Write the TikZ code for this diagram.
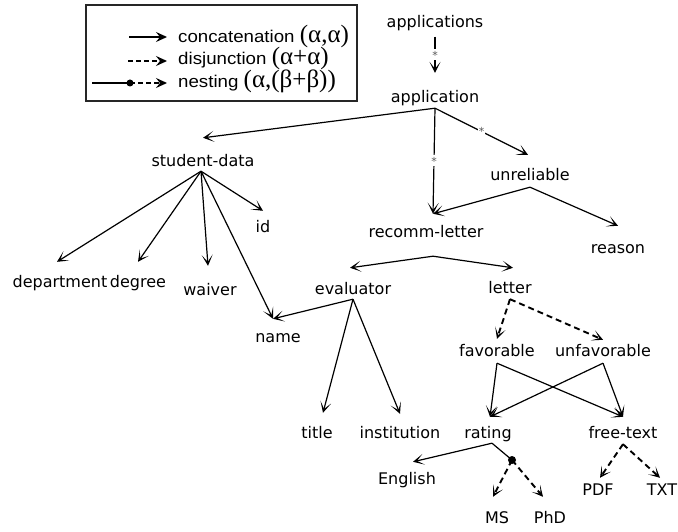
\documentclass[tikz,border=0pt]{standalone}
\usepackage{fontspec}
\setmainfont{DejaVu Sans}
\newfontfamily\legendfont[FakeStretch=1.1]{Liberation Sans}
\newfontfamily\greekfont{Liberation Serif}
\usetikzlibrary{arrows.meta,calc}

\newcommand{\gk}[1]{{\greekfont\fontsize{25}{25}\selectfont #1}}

\tikzset{
  lbl/.style={font=\fontsize{16}{19}\selectfont, inner sep=0pt, anchor=base},
  hd/.style 2 args={text height=#1pt, text depth=#2pt},
  cat/.style={line width=1.2pt, -{Stealth[length=11pt,width=11pt,inset=7pt]}},
  dis/.style={line width=1.9pt, dash pattern=on 6pt off 4pt,
              -{Stealth[length=11pt,width=11pt,inset=7pt]}},
  star/.style={fill=white, inner sep=1pt, text=black!65,
               font=\fontsize{11}{11}\selectfont, text height=9pt, text depth=0pt},
  knot/.style={circle, fill=black, inner sep=0pt, minimum size=8pt},
  legendbox/.style={draw=black!85, line width=1.3pt, inner sep=0pt},
  ltext/.style={font=\legendfont\fontsize{17}{20}\selectfont, inner sep=0pt,
                anchor=west, text height=12pt, text depth=3pt},
  lcat/.style={line width=1.8pt, -{Stealth[length=11pt,width=10pt,inset=4pt]}},
  ldis/.style={line width=1.8pt, dash pattern=on 5pt off 3pt,
               -{Stealth[length=11pt,width=10pt,inset=4pt]}},
}

\begin{document}
\begin{tikzpicture}[x=1pt,y=-1pt]
\useasboundingbox (0,0) rectangle (678,532);

% legend
\node[legendbox, minimum width=271pt, minimum height=96pt] (legend) at (221.5,53) {};
\coordinate (c1a) at (129,37); \coordinate (c1b) at (167,37);
\coordinate (c2a) at (128,61); \coordinate (c2b) at (167,61);
\coordinate (c3a) at (92,83);  \coordinate (c3b) at (167,83);
\node[knot, minimum size=7pt] (c3k) at (130,83) {};
\draw[lcat] (c1a) -- (c1b);
\draw[ldis] (c2a) -- (c2b);
\draw[line width=1.8pt] (c3a) -- (c3k.center);
\draw[ldis] (c3k.center) -- (c3b);
\node[ltext] (l1) at (178,38) {concatenation \gk{(α,α)}};
\node[ltext] (l2) at (178,60) {disjunction \gk{(α+α)}};
\node[ltext] (l3) at (178,83) {nesting \gk{(α,(β+β))}};

% tree nodes
\node[lbl,hd={12}{9}]       (aps) at (435,27.5)  {applications};
\node[lbl,hd={29.5}{5.5}]   (ap)  at (435,102.5) {application};
\node[lbl,hd={28.5}{4.5}]   (sd)  at (203,166.5) {student-data};
\node[lbl,hd={25.5}{6.5}]   (ur)  at (530,180.5) {unreliable};
\node[lbl,hd={21.5}{4}]     (id)  at (263,232.5) {id};
\node[lbl,hd={23.5}{18.5}]  (rl)  at (426,237.5) {recomm-letter};
\node[lbl,hd={27.5}{4}]     (rs)  at (618,253.5) {reason};
\node[lbl,hd={25.5}{4}]     (dep) at (60,287.5)  {department};
\node[lbl,hd={25.5}{4}]     (deg) at (138,287.5) {degree};
\node[lbl,hd={29.5}{4}]     (wv)  at (210,295.5) {waiver};
\node[lbl,hd={26.5}{4.5}]   (ev)  at (353,294.5) {evaluator};
\node[lbl,hd={25.5}{5.5}]   (lt)  at (510,293.5) {letter};
\node[lbl,hd={23.5}{4}]     (nm)  at (278,342.5) {name};
\node[lbl,hd={17.5}{6.5}]   (fav) at (497,356.5) {favorable};
\node[lbl,hd={16.5}{6.5}]   (unf) at (603,356.5) {unfavorable};
\node[lbl,hd={25.5}{4}]     (ti)  at (317,438.5) {title};
\node[lbl,hd={24.5}{4}]     (ins) at (400,438.5) {institution};
\node[lbl,hd={21.5}{4.5}]   (rt)  at (488,438.5) {rating};
\node[lbl,hd={21.5}{5.5}]   (ft)  at (623,438.5) {free-text};
\node[lbl,hd={22.5}{4}]     (en)  at (407,484.5) {English};
\node[lbl,hd={17.5}{4}]     (pdf) at (598,495.5) {PDF};
\node[lbl,hd={17.5}{4}]     (txt) at (662,495.5) {TXT};
\node[lbl,hd={26.5}{4}]     (ms)  at (497,523.5) {MS};
\node[lbl,hd={26.5}{4}]     (phd) at (550,523.5) {PhD};
\node[knot] (nest) at (512,460) {};

% connectors
\draw[cat] (aps.south) -- node[star]{*} (ap.north);
\draw[cat] (ap.south) -- (sd.north);
\draw[cat] (ap.south) -- node[star]{*} ([xshift=7pt]rl.north);
\draw[cat] (ap.south) -- node[star]{*} ([xshift=-2pt]ur.north);
\draw[cat] ([xshift=-2pt]sd.south) -- ([xshift=-3pt]dep.north);
\draw[cat] ([xshift=-2pt]sd.south) -- (deg.north);
\draw[cat] ([xshift=-2pt]sd.south) -- ([xshift=-2pt]wv.north);
\draw[cat] ([xshift=-2pt]sd.south) -- (id.north);
\draw[cat] ([xshift=-2pt]sd.south) -- ([xshift=-5pt]nm.north);
\draw[cat] (ur.south) -- ([xshift=7pt]rl.north);
\draw[cat] (ur.south) -- (rs.north);
\draw[cat] ([xshift=7pt]rl.south) -- ([xshift=-3pt]ev.north);
\draw[cat] ([xshift=7pt]rl.south) -- ([xshift=3pt]lt.north);
\draw[cat] (ev.south) -- ([xshift=-5pt]nm.north);
\draw[cat] (ev.south) -- ([xshift=6pt]ti.north);
\draw[cat] (ev.south) -- (ins.north);
\draw[dis] (lt.south) -- (fav.north);
\draw[dis] (lt.south) -- (unf.north);
\draw[cat] (fav.south) -- ([xshift=2pt]rt.north);
\draw[cat] (fav.south) -- (ft.north);
\draw[cat] (unf.south) -- ([xshift=2pt]rt.north);
\draw[cat] (unf.south) -- (ft.north);
\draw[cat] ([xshift=4pt]rt.south) -- ([xshift=6pt]en.north);
\draw[line width=1.2pt] ([xshift=4pt]rt.south) -- (nest.center);
\draw[dis] (nest.center) -- ([xshift=-4pt]ms.north);
\draw[dis] (nest.center) -- ([xshift=-7pt]phd.north);
\draw[dis] (ft.south) -- ([xshift=2pt]pdf.north);
\draw[dis] (ft.south) -- ([xshift=-2pt]txt.north);
\end{tikzpicture}
\end{document}
